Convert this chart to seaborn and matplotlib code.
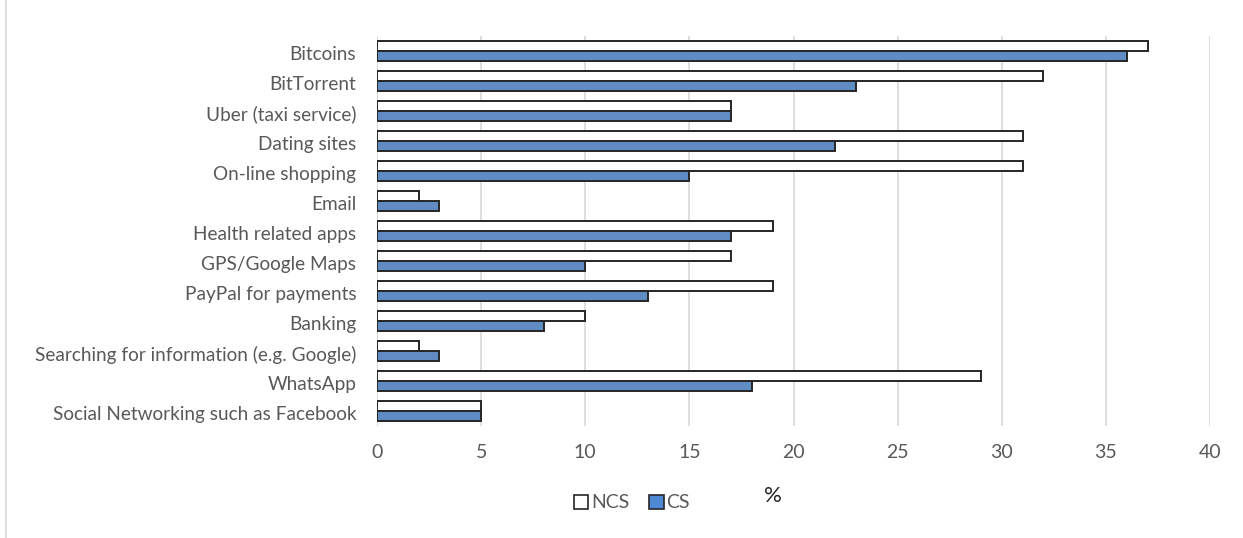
import matplotlib
matplotlib.use("Agg")
import matplotlib.pyplot as plt
import matplotlib.transforms as mtransforms
import seaborn as sns
import pandas as pd
from matplotlib.lines import Line2D
from matplotlib.patches import Patch

categories = ["Bitcoins", "BitTorrent", "Uber (taxi service)", "Dating sites",
              "On-line shopping", "Email", "Health related apps", "GPS/Google Maps",
              "PayPal for payments", "Banking", "Searching for information (e.g. Google)",
              "WhatsApp", "Social Networking such as Facebook"]
ncs = [37, 32, 17, 31, 31, 2, 19, 17, 19, 10, 2, 29, 5]
cs = [36, 23, 17, 22, 15, 3, 17, 10, 13, 8, 3, 18, 5]
series = ["NCS", "CS"]
xticks = [0, 5, 10, 15, 20, 25, 30, 35, 40]

df = pd.DataFrame({
    "category": categories * 2,
    "value": ncs + cs,
    "group": ["NCS"] * len(categories) + ["CS"] * len(categories),
})

sns.set_theme(style="white")
plt.rcParams["font.family"] = ["Lato", "DejaVu Sans"]

text_color = "#595959"
blue = "#5089D3"

fig = plt.figure(figsize=(12.43, 5.38), dpi=100)
ax = fig.add_axes([377 / 1243, 1 - 426 / 538, (1210 - 377) / 1243, 390 / 538])

sns.barplot(data=df, y="category", x="value", hue="group", order=categories,
            hue_order=series, palette={"NCS": "white", "CS": blue},
            orient="h", width=0.68, edgecolor="#262626", linewidth=1.4,
            legend=False, ax=ax, zorder=3)

ax.set_xlim(0, 40)
ax.set_ylim(12.5, -0.5)
ax.set_xticks(xticks)
ax.set_xticklabels([str(t) for t in xticks])
ax.xaxis.grid(True, color="#d9d9d9", linewidth=1.2, zorder=0)
ax.set_axisbelow(True)
for s in ax.spines.values():
    s.set_visible(False)
ax.axvline(0, color="#d9d9d9", linewidth=1.2, zorder=1)
ax.tick_params(axis="x", length=0, labelsize=14, labelcolor=text_color, pad=13)
ax.tick_params(axis="y", length=0, labelsize=13.7, labelcolor=text_color, pad=15)
shift = mtransforms.ScaledTranslation(0, -2 / 100, fig.dpi_scale_trans)
for lbl in ax.get_yticklabels():
    lbl.set_va("center_baseline")
    lbl.set_transform(lbl.get_transform() + shift)
ax.set_ylabel("")
ax.set_xlabel("%", fontsize=16, color="#222222")
ax.xaxis.set_label_coords((773 - 377) / (1210 - 377), -0.155)

handles = [Patch(facecolor="white", edgecolor="#262626", linewidth=1.2, label="NCS"),
           Patch(facecolor=blue, edgecolor="#262626", linewidth=1.2, label="CS")]
fig.legend(handles=handles, loc="center", bbox_to_anchor=(632 / 1243, 1 - 503 / 538),
           ncol=2, frameon=False, fontsize=14, labelcolor=text_color,
           handlelength=0.75, handleheight=0.75, handletextpad=0.15, columnspacing=1.0)

fig.add_artist(Line2D([6 / 1243, 6 / 1243], [0, 1], color="#d9d9d9", linewidth=1.2,
                      transform=fig.transFigure))

fig.savefig("out.png", dpi=100, facecolor="white")
